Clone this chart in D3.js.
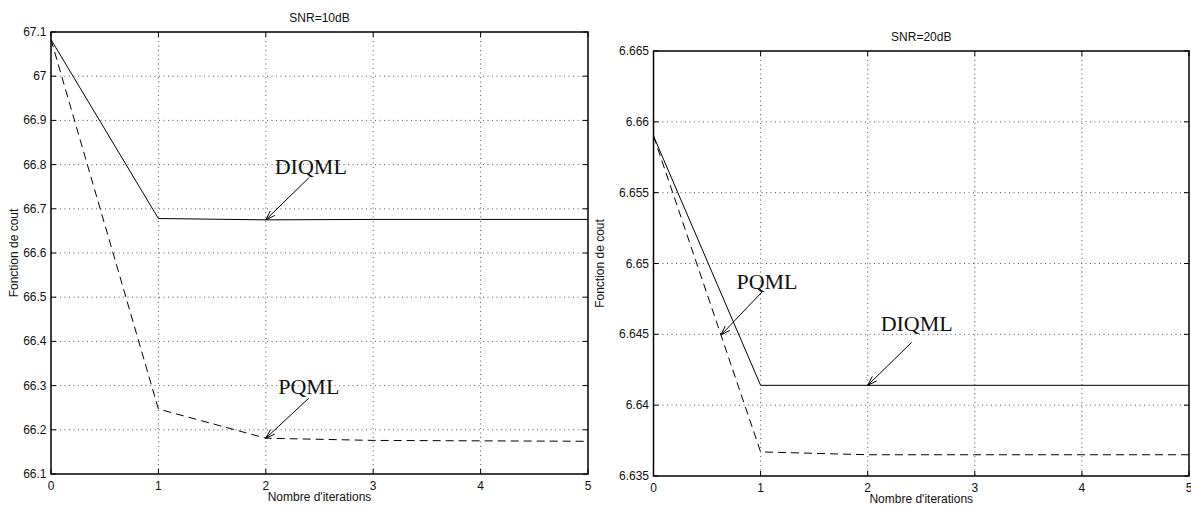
<!DOCTYPE html>
<html>
<head>
<meta charset="utf-8">
<script src="https://cdn.jsdelivr.net/npm/d3@7"></script>
<style>
  html, body { margin: 0; padding: 0; background: #fff; }
  svg { display: block; }
  .tick-label { font-family: "Liberation Sans", Arial, sans-serif; font-size: 12px; fill: #111; }
  .axis-title { font-family: "Liberation Sans", Arial, sans-serif; font-size: 12px; fill: #111; }
  .annot { font-family: "Liberation Serif", "DejaVu Serif", serif; font-size: 22px; fill: #111; }
</style>
</head>
<body>
<svg id="chart" width="1191" height="508"></svg>
<script>
// Iteration index shared by both panels
const iterations = [0, 1, 2, 3, 4, 5];
const xTickLabels = ["0", "1", "2", "3", "4", "5"];

// Cost function, SNR = 10 dB
const diqml10 = [67.083, 66.678, 66.675, 66.676, 66.676, 66.676];
const pqml10  = [67.083, 66.247, 66.181, 66.176, 66.175, 66.174];
const yTicks10 = [66.1, 66.2, 66.3, 66.4, 66.5, 66.6, 66.7, 66.8, 66.9, 67.0, 67.1];
const yTickLabels10 = ["66.1", "66.2", "66.3", "66.4", "66.5", "66.6", "66.7", "66.8", "66.9", "67", "67.1"];

// Cost function, SNR = 20 dB
const diqml20 = [6.6590, 6.6414, 6.6414, 6.6414, 6.6414, 6.6414];
const pqml20  = [6.6590, 6.6367, 6.6365, 6.6365, 6.6365, 6.6365];
const yTicks20 = [6.635, 6.640, 6.645, 6.650, 6.655, 6.660, 6.665];
const yTickLabels20 = ["6.635", "6.64", "6.645", "6.65", "6.655", "6.66", "6.665"];

// Panel layout (pixels)
const panels = [
  {
    title: "SNR=10dB", left: 51, right: 588, top: 32, bottom: 474, ylabelGap: 33,
    yTicks: yTicks10, yLabels: yTickLabels10,
    series: [{ values: diqml10, dash: null }, { values: pqml10, dash: "8,5" }],
    notes: [
      // label, series index, position along the x axis, tail offset, text offset
      { text: "DIQML", s: 0, at: 2, tail: [43, -42], label: [45, -46] },
      { text: "PQML",  s: 1, at: 2, tail: [43, -40], label: [43, -44] }
    ]
  },
  {
    title: "SNR=20dB", left: 653.5, right: 1189, top: 51, bottom: 476, ylabelGap: 50,
    yTicks: yTicks20, yLabels: yTickLabels20,
    series: [{ values: diqml20, dash: null }, { values: pqml20, dash: "8,5" }],
    notes: [
      { text: "PQML",  s: 1, at: 0.63, tail: [41, -43], label: [46, -46] },
      { text: "DIQML", s: 0, at: 2,    tail: [44, -43], label: [49, -54] }
    ]
  }
];

const svg = d3.select("#chart");

panels.forEach(p => {
  const x = d3.scaleLinear().domain([0, 5]).range([p.left, p.right]);
  const y = d3.scaleLinear().domain([p.yTicks[0], p.yTicks[p.yTicks.length - 1]]).range([p.bottom, p.top]);
  const g = svg.append("g");

  // dotted grid
  g.selectAll(".gx").data(iterations.slice(1, -1)).join("line")
    .attr("x1", d => x(d)).attr("x2", d => x(d))
    .attr("y1", p.top).attr("y2", p.bottom)
    .attr("stroke", "#555").attr("stroke-width", 1).attr("stroke-dasharray", "1,3.5");
  g.selectAll(".gy").data(p.yTicks.slice(1, -1)).join("line")
    .attr("x1", p.left).attr("x2", p.right)
    .attr("y1", d => y(d)).attr("y2", d => y(d))
    .attr("stroke", "#555").attr("stroke-width", 1).attr("stroke-dasharray", "1,3.5");

  // inward ticks on all four sides
  const tl = 5;
  const ticks = g.append("g").attr("stroke", "#000").attr("stroke-width", 1);
  iterations.forEach(d => {
    ticks.append("line").attr("x1", x(d)).attr("x2", x(d)).attr("y1", p.bottom).attr("y2", p.bottom - tl);
    ticks.append("line").attr("x1", x(d)).attr("x2", x(d)).attr("y1", p.top).attr("y2", p.top + tl);
  });
  p.yTicks.forEach(d => {
    ticks.append("line").attr("x1", p.left).attr("x2", p.left + tl).attr("y1", y(d)).attr("y2", y(d));
    ticks.append("line").attr("x1", p.right).attr("x2", p.right - tl).attr("y1", y(d)).attr("y2", y(d));
  });

  // data lines
  const line = d3.line().x((d, i) => x(iterations[i])).y(d => y(d));
  p.series.forEach(s => {
    g.append("path").datum(s.values)
      .attr("d", line)
      .attr("fill", "none").attr("stroke", "#000").attr("stroke-width", 1)
      .attr("stroke-dasharray", s.dash);
  });

  // frame
  g.append("rect")
    .attr("x", p.left).attr("y", p.top)
    .attr("width", p.right - p.left).attr("height", p.bottom - p.top)
    .attr("fill", "none").attr("stroke", "#000").attr("stroke-width", 1.5);

  // tick labels
  g.selectAll(".xl").data(iterations).join("text").attr("class", "tick-label")
    .attr("x", d => x(d)).attr("y", p.bottom + 15.5)
    .attr("text-anchor", "middle").text((d, i) => xTickLabels[i]);
  g.selectAll(".yl").data(p.yTicks).join("text").attr("class", "tick-label")
    .attr("x", p.left - 4.5).attr("y", d => y(d) + 4)
    .attr("text-anchor", "end").text((d, i) => p.yLabels[i]);

  // titles
  g.append("text").attr("class", "axis-title")
    .attr("x", (p.left + p.right) / 2).attr("y", p.top - 10)
    .attr("text-anchor", "middle").text(p.title);
  g.append("text").attr("class", "axis-title")
    .attr("x", (p.left + p.right) / 2).attr("y", p.bottom + 27)
    .attr("text-anchor", "middle").text("Nombre d'iterations");
  g.append("text").attr("class", "axis-title")
    .attr("transform", `translate(${p.left - p.ylabelGap},${(p.top + p.bottom) / 2}) rotate(-90)`)
    .attr("text-anchor", "middle").text("Fonction de cout");

  // annotations with open arrowheads
  p.notes.forEach(n => {
    const vals = p.series[n.s].values;
    const i0 = Math.floor(n.at), i1 = Math.min(i0 + 1, vals.length - 1), t = n.at - i0;
    const tx = x(n.at);
    const ty = y(vals[i0] + (vals[i1] - vals[i0]) * t);
    const sx = tx + n.tail[0], sy = ty + n.tail[1];
    g.append("line").attr("x1", sx).attr("y1", sy).attr("x2", tx).attr("y2", ty)
      .attr("stroke", "#000").attr("stroke-width", 1);
    const ang = Math.atan2(sy - ty, sx - tx), len = 10, spread = 0.32;
    [-spread, spread].forEach(a => {
      g.append("line")
        .attr("x1", tx).attr("y1", ty)
        .attr("x2", tx + len * Math.cos(ang + a)).attr("y2", ty + len * Math.sin(ang + a))
        .attr("stroke", "#000").attr("stroke-width", 1);
    });
    g.append("text").attr("class", "annot")
      .attr("x", tx + n.label[0]).attr("y", ty + n.label[1])
      .attr("text-anchor", "middle").text(n.text);
  });
});
</script>
</body>
</html>
